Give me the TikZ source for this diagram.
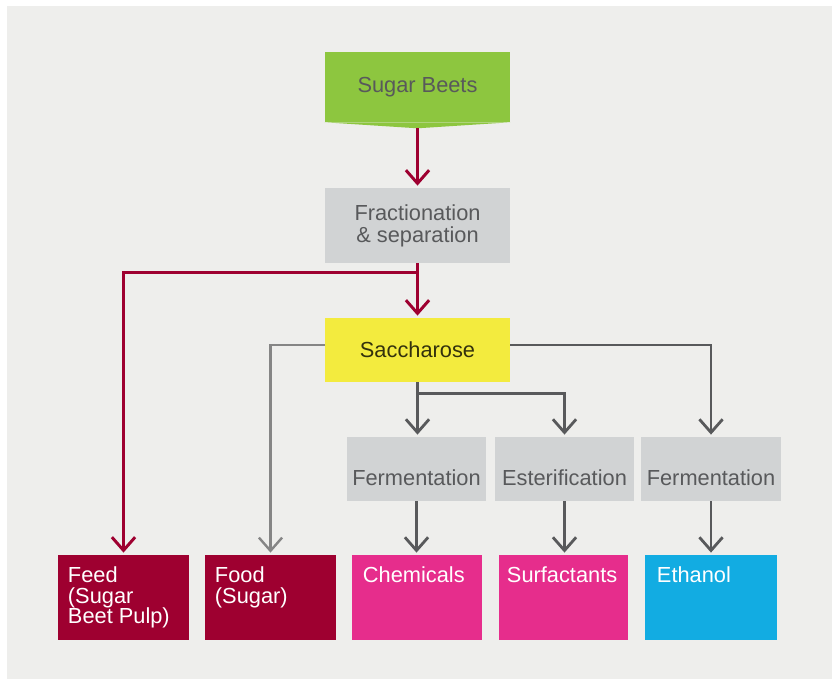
\documentclass[tikz,border=0pt]{standalone}
\usepackage{fontspec}
\setmainfont{Liberation Sans}
\usetikzlibrary{arrows.meta}
\definecolor{bgcol}{HTML}{EEEEEC}
\definecolor{beetgreen}{HTML}{8DC63F}
\definecolor{procgray}{HTML}{D1D3D4}
\definecolor{saccyellow}{HTML}{F3EB3E}
\definecolor{wine}{HTML}{9E0030}
\definecolor{magenta}{HTML}{E62D8C}
\definecolor{skyblue}{HTML}{12ACE2}
\definecolor{txtgray}{HTML}{58595B}
\definecolor{linedark}{HTML}{58595B}
\definecolor{linelight}{HTML}{858585}
\tikzset{
  procbox/.style={fill=procgray,inner sep=0pt,minimum width=4.625cm,minimum height=1.875cm,
    text=txtgray,align=center},
  stepbox/.style={fill=procgray,inner sep=0pt,minimum width=3.475cm,minimum height=1.6cm,text=txtgray,
    text height=0.8cm,text depth=0pt},
  outbox/.style={fill=#1,inner sep=0pt,minimum width=3.275cm,minimum height=2.125cm},
  outtext/.style={anchor=north west,inner sep=0pt,text=white,align=left,
    font=\fontsize{15.5}{14.5}\selectfont},
  redline/.style={draw=wine,line width=2.1pt,-{Straight Barb[length=0.33cm,width=0.58cm]},shorten >=1.5pt},
  darkline/.style={draw=linedark,line width=2pt,-{Straight Barb[length=0.33cm,width=0.58cm]},shorten >=1.5pt},
  lightline/.style={draw=linelight,line width=1.7pt,-{Straight Barb[length=0.33cm,width=0.58cm]},shorten >=1.5pt}
}
\begin{document}
\begin{tikzpicture}[x=0.025cm,y=-0.025cm,font=\fontsize{15.5}{17.5}\selectfont]
\useasboundingbox (0,0) rectangle (832,679);
\fill[bgcol] (7,6) rectangle (832,679);
% top of the chain
\node[procbox,fill=beetgreen,minimum height=1.75cm] (beets) at (417.5,87) {Sugar Beets};
\fill[beetgreen] (beets.south west) -- (beets.south east) -- ([yshift=-0.15cm]beets.south) -- cycle;
\coordinate (beetstip) at ([yshift=-0.15cm]beets.south);
\node[procbox] (frac) at (417.5,225.5) {Fractionation\\[-2pt]\& separation};
\node[procbox,fill=saccyellow,minimum height=1.6cm,text=black!65!saccyellow!60!black] (sacc) at (417.5,350) {Saccharose};
% processes
\node[stepbox] (ferm1) at (416.5,469) {Fermentation};
\node[stepbox] (ester) at (564.5,469) {Esterification};
\node[stepbox,minimum width=3.5cm] (ferm2) at (711,469) {Fermentation};
% products
\node[outbox=wine] (feed) at (123.5,597.5) {};
\node[outbox=wine] (food) at (270.5,597.5) {};
\node[outbox=magenta,minimum width=3.25cm] (chem) at (417,597.5) {};
\node[outbox=magenta,minimum width=3.225cm] (surf) at (563.5,597.5) {};
\node[outbox=skyblue,minimum width=3.3cm] (eth) at (711,597.5) {};
\node[outtext] (feedtxt) at ([shift={(10,12)}]feed.north west) {Feed\\(Sugar\\Beet Pulp)};
\node[outtext] (foodtxt) at ([shift={(10,12)}]food.north west) {Food\\(Sugar)};
\node[outtext] (chemtxt) at ([shift={(11,12)}]chem.north west) {Chemicals};
\node[outtext] (surftxt) at ([shift={(8,12)}]surf.north west) {Surfactants};
\node[outtext] (ethtxt) at ([shift={(12,12)}]eth.north west) {Ethanol};
% connectors
\draw[redline] (beetstip) -- (frac.north);
\draw[redline] (frac.south) -- (sacc.north);
\draw[redline,-] (frac.south) -- ++(0,9) coordinate (split);
\draw[redline] (split) -| (feed.north);
\draw[lightline] ([yshift=0.125cm]sacc.west) -| (food.north);
\draw[darkline] (sacc.south) -- (sacc.south |- ferm1.north);
\draw[darkline] (sacc.south) ++(0,11) -| (ester.north);
\draw[darkline] ([yshift=0.125cm]sacc.east) -| (ferm2.north);
\draw[darkline] (ferm1.south) -- (ferm1.south |- chem.north);
\draw[darkline] (ester.south) -- (ester.south |- surf.north);
\draw[darkline] (ferm2.south) -- (eth.north);
\end{tikzpicture}
\end{document}
